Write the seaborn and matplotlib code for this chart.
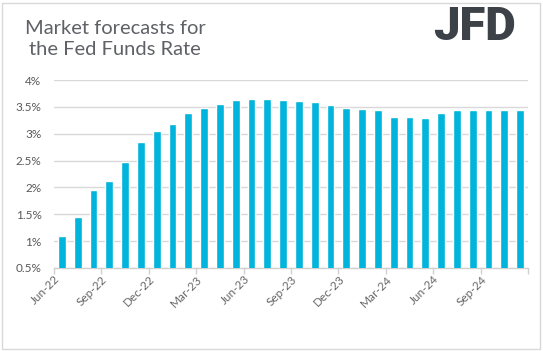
import matplotlib
matplotlib.use("Agg")
import matplotlib.pyplot as plt
import seaborn as sns
from matplotlib.patches import Rectangle

months = ["Jun-22", "Jul-22", "Aug-22", "Sep-22", "Oct-22", "Nov-22",
          "Dec-22", "Jan-23", "Feb-23", "Mar-23", "Apr-23", "May-23",
          "Jun-23", "Jul-23", "Aug-23", "Sep-23", "Oct-23", "Nov-23",
          "Dec-23", "Jan-24", "Feb-24", "Mar-24", "Apr-24", "May-24",
          "Jun-24", "Jul-24", "Aug-24", "Sep-24", "Oct-24", "Nov-24"]
rates = [1.10, 1.45, 1.95, 2.12, 2.48, 2.85, 3.05, 3.18, 3.39, 3.48,
         3.55, 3.63, 3.65, 3.65, 3.63, 3.61, 3.59, 3.53, 3.48, 3.46,
         3.44, 3.31, 3.31, 3.29, 3.39, 3.44, 3.44, 3.44, 3.44, 3.44]
y_ticks = [0.5, 1, 1.5, 2, 2.5, 3, 3.5, 4]

sns.set_style("white")
plt.rcParams["font.family"] = ["Lato", "DejaVu Sans"]

fig = plt.figure(figsize=(5.43, 3.51), dpi=100)
ax = fig.add_axes([54 / 543, 1 - 268 / 351, 474 / 543, 188 / 351])

sns.barplot(x=months, y=rates, color="#00b4dc", width=0.5, saturation=1, ax=ax, zorder=3)

ax.set_ylim(0.5, 4)
ax.set_xlim(-0.5, len(months) - 0.5)
ax.set_yticks(y_ticks)
ax.set_yticklabels([f"{v:g}%" for v in y_ticks])
ax.yaxis.grid(True, color="#d9d9d9", linewidth=1, zorder=0)
ax.tick_params(axis="y", length=0, pad=9, labelsize=8.5, labelcolor="#595959")

# labels sit at every third bar, tick marks at category edges
ax.set_xticks(range(0, len(months), 3))
ax.set_xticklabels(months[::3], rotation=45, ha="right")
ax.set_xticks([i - 0.5 for i in range(0, len(months) + 1, 3)], minor=True)
ax.tick_params(axis="x", which="major", length=0, pad=4, labelsize=8.5, labelcolor="#666666")
ax.tick_params(axis="x", which="minor", length=4, width=1, color="#d0d0d0", bottom=True)

for side in ["left", "right", "top"]:
    ax.spines[side].set_visible(False)
ax.spines["bottom"].set_color("#d0d0d0")
ax.spines["bottom"].set_linewidth(1)
ax.set_xlabel("")
ax.set_ylabel("")

fig.text(115 / 543, 1 - 39 / 351, "Market forecasts for\nthe Fed Funds Rate",
         ha="center", va="center", fontsize=14.5, color="#5f6166", linespacing=1.3)
fig.text(474 / 543, 1 - 27 / 351, "JFD", ha="center", va="center",
         fontsize=34, fontweight="black", color="#3d4249", family="Roboto")

fig.patches.append(Rectangle((2 / 543, 2 / 351), 538 / 543, 346 / 351,
                             transform=fig.transFigure, fill=False,
                             edgecolor="#d9d9d9", linewidth=1))

fig.savefig("out.png", dpi=100)
